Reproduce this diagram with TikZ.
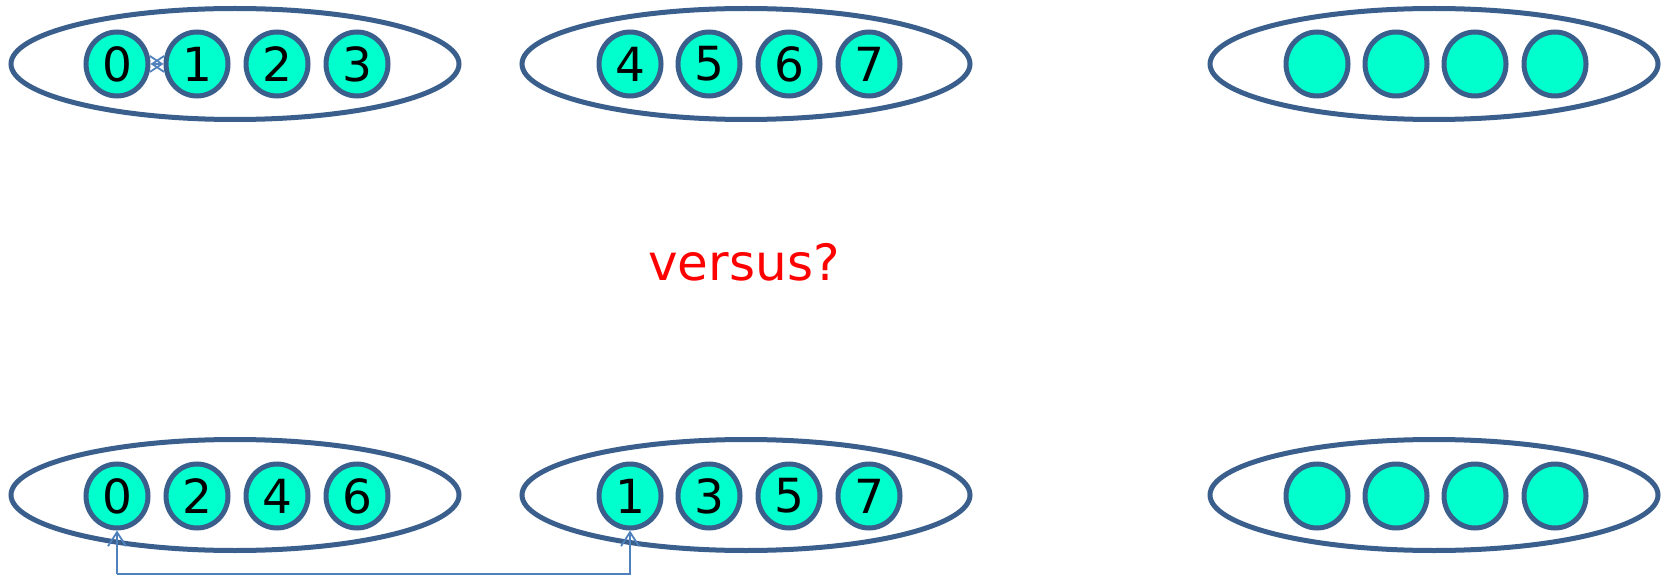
\documentclass[tikz,border=0pt]{standalone}
\usepackage{fontspec}
\setmainfont{DejaVu Sans}
\usetikzlibrary{shapes.geometric,arrows.meta}
\definecolor{ringblue}{HTML}{3A5F8D}
\definecolor{ballfill}{HTML}{00FFCC}
\definecolor{linkblue}{HTML}{4F81BD}
\tikzset{
  group/.style={draw=ringblue, line width=5pt, ellipse, minimum width=448pt, minimum height=111pt, inner sep=0pt},
  ball/.style={draw=ringblue, fill=ballfill, line width=5pt, ellipse, minimum width=62pt, minimum height=64pt, inner sep=0pt, font=\fontsize{47}{47}\selectfont},
  link/.style={draw=linkblue, line width=1.8pt},
}
\begin{document}
\begin{tikzpicture}[x=1pt,y=-1pt]
\useasboundingbox (0,0) rectangle (1669,577);
% top row groups
\node[group] (g1) at (235,64) {};
\node[group] (g2) at (746,64) {};
\node[group] (g3) at (1434,64) {};
% bottom row groups
\node[group] (h1) at (235,495) {};
\node[group] (h2) at (746,495) {};
\node[group] (h3) at (1434,495) {};
% top balls
\node[ball] (t0) at (117,64) {0};
\node[ball] (t1) at (197,64) {1};
\node[ball] (t2) at (277,64) {2};
\node[ball] (t3) at (357,64) {3};
\node[ball] (t4) at (630,64) {4};
\node[ball] (t5) at (709,64) {5};
\node[ball] (t6) at (789,64) {6};
\node[ball] (t7) at (869,64) {7};
\node[ball] (ta) at (1317,64) {};
\node[ball] (tb) at (1396,64) {};
\node[ball] (tc) at (1475,64) {};
\node[ball] (td) at (1555,64) {};
% bottom balls
\node[ball] (b0) at (117,496) {0};
\node[ball] (b2) at (197,496) {2};
\node[ball] (b4) at (277,496) {4};
\node[ball] (b6) at (357,496) {6};
\node[ball] (b1) at (630,496) {1};
\node[ball] (b3) at (709,496) {3};
\node[ball] (b5) at (789,496) {5};
\node[ball] (b7) at (869,496) {7};
\node[ball] (ba) at (1317,496) {};
\node[ball] (bb) at (1396,496) {};
\node[ball] (bc) at (1475,496) {};
\node[ball] (bd) at (1555,496) {};
% small link between 0 and 1 (top)
\draw[link, {Straight Barb[length=12pt,width=16pt]}-{Straight Barb[length=12pt,width=16pt]}] (t0.east) -- (t1.west);
% bottom connector
\coordinate (lowL) at (117,574);
\coordinate (lowR) at (630,574);
\draw[link, -{Straight Barb[length=14pt,width=18pt]}] (lowL) -- (lowR) -- (b1.south);
\draw[link, -{Straight Barb[length=14pt,width=18pt]}] (lowL) -- (b0.south);
% text
\node[text=red, font=\fontsize{50}{50}\selectfont] (vs) at (744,262) {versus?};
\end{tikzpicture}
\end{document}
